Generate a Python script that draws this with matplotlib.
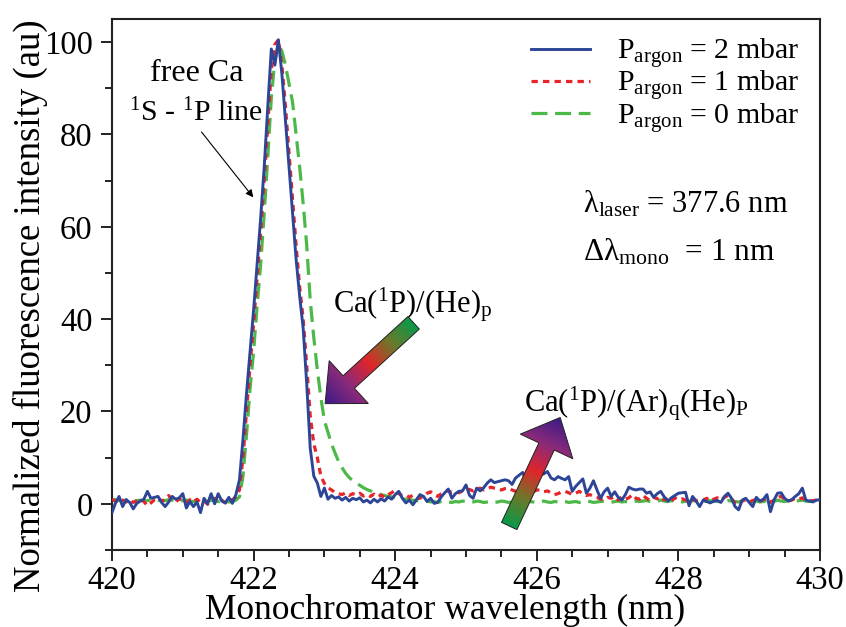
import numpy as np
import matplotlib.pyplot as plt
from matplotlib.ticker import MultipleLocator
from matplotlib.colors import LinearSegmentedColormap
from matplotlib.patches import Polygon

plt.rcParams['font.family'] = ['Liberation Serif', 'DejaVu Serif']
plt.rcParams['mathtext.fontset'] = 'custom'
plt.rcParams['mathtext.rm'] = 'Liberation Serif'
plt.rcParams['mathtext.it'] = 'Liberation Serif:italic'

# monochromator scan, 0.05 nm steps
wavelength = np.linspace(420, 430, 201)

p2_mbar = [
    -1.9, 0.2, 1.6, -0.6, 0.9, 0.3, -1.1, 0.1, 0.6, 1.0,
    2.7, 1.2, 1.4, 1.6, 0.3, -0.6, 0.4, 1.6, 1.0, 1.3,
    2.2, -0.9, 0.5, -0.6, 0.4, -1.9, 1.2, 0.0, 2.2, 0.0,
    2.2, 0.6, 0.2, 1.4, 0.1, 2.0, 5.2, 14, 24, 33,
    42, 52, 62, 73, 86, 98.5, 95, 100.5, 93, 83,
    73, 63, 53, 45, 38, 26, 12, 6, 4.5, 1.6,
    3.4, 1.0, 1.8, 1.2, 1.5, 0.8, 1.4, 0.6, 1.2, 0.9,
    1.3, 0.4, 0.8, 0.2, 1.0, 0.4, 1.1, 0.6, 1.5, 1.0,
    2.0, 2.7, 1.2, 0.2, 0.8, -0.2, 0.9, 2.0, 1.6, 0.5,
    1.2, 0.1, 0.3, 1.5, 2.4, 3.2, 1.2, 2.2, 2.7, 2.8,
    4.1, 1.8, 1.2, 3.4, 2.8, 3.5, 4.5, 5.2, 4.6, 4.8,
    5.0, 5.2, 5.0, 4.2, 5.6, 6.2, 6.8, 5.0, 4.8, 5.6,
    5.9, 6.3, 6.5, 7.0, 5.6, 5.2, 5.9, 5.5, 5.2, 5.9,
    2.7, 3.8, 4.6, 5.4, 2.3, 3.4, 5.0, 3.0, 1.2, 2.6,
    3.4, 1.6, 2.6, 1.4, 0.8, 2.0, 3.6, 3.2, 3.0, 3.2,
    3.2, 2.3, 2.6, 1.4, 2.2, 2.7, 1.5, 0.6, 1.3, 1.8,
    2.3, 2.4, 2.5, -0.4, 1.6, 0.6, -0.6, 0.8, 0.5, 0.2,
    0.6, 0.7, 0.3, 1.6, 2.3, 1.2, -0.6, -1.3, 0.8, 1.2,
    0.3, -0.6, 1.4, 0.6, 1.0, 2.0, -1.7, 0.8, 2.3, 2.4,
    1.2, 0.6, 0.9, 1.6, 2.2, 3.4, 0.8, 0.6, 0.4, 0.8,
    0.9,
]

p1_mbar = [
    1.0, 0.6, 0.2, 0.8, 0.4, 0.9, 0.3, 0.7, 1.0, 0.5,
    -0.4, 0.2, 0.9, 1.3, 0.6, 0.9, 1.8, 0.8, 0.4, 1.1,
    0.6, 0.2, 0.9, 0.4, 1.0, 0.3, 0.7, -0.1, 0.6, 1.2,
    0.4, 0.8, 0.2, 0.6, 0.9, 1.5, 3.0, 10, 20, 30,
    39, 49, 59, 70, 82, 94, 99.5, 100.5, 95, 86,
    76, 66, 56, 47, 40, 30, 19, 13, 10, 6.0,
    4.4, 3.5, 3.0, 2.5, 2.2, 2.0, 2.4, 1.8, 2.2, 1.9,
    2.3, 1.7, 2.0, 1.6, 2.1, 1.5, 1.9, 1.4, 2.0, 2.4,
    3.0, 2.2, 1.8, 2.0, 1.4, 1.9, 1.2, 1.2, 1.8, 2.3,
    2.6, 2.0, 1.6, 2.2, 2.7, 2.8, 2.5, 2.7, 2.4, 2.8,
    2.9, 3.1, 2.8, 3.2, 3.4, 3.0, 3.2, 3.6, 3.4, 3.2,
    3.0, 3.3, 3.4, 3.0, 2.7, 3.6, 4.5, 3.6, 2.0, 2.6,
    3.0, 3.0, 2.6, 2.8, 2.4, 2.0, 2.2, 2.6, 2.7, 2.4,
    2.0, 2.3, 2.7, 2.2, 1.8, 2.0, 1.6, 1.4, 1.0, 0.9,
    1.4, 1.2, 1.6, 0.8, 1.5, 1.0, 1.3, 2.0, 1.2, 1.0,
    1.8, 1.2, 0.7, 1.4, 1.1, 1.6, 0.8, 1.2, 0.6, 1.3,
    0.9, 1.1, 0.8, 0.4, 0.9, 0.7, 1.0, 0.8, 1.2, 0.6,
    1.0, 1.3, 0.8, 1.4, 1.8, 1.1, 0.2, -0.2, 0.6, 0.9,
    0.4, 0.7, 1.0, 0.5, 0.9, 1.2, 0.3, 0.8, 1.4, 1.6,
    1.0, 0.6, 0.8, 1.2, 1.0, 1.3, 0.8, 0.6, 0.7, 0.8,
    0.8,
]

p0_mbar = [
    0.8, 0.9, 0.7, 0.6, 0.8, 0.9, 0.5, 0.7, 0.8, 0.6,
    0.7, 0.9, 1.0, 0.8, 0.6, 0.7, 0.9, 0.8, 0.6, 0.5,
    0.7, 0.8, 0.6, 0.5, 0.4, 0.6, 0.7, 0.5, 0.8, 0.6,
    0.5, 0.7, 0.6, 0.4, 0.5, 0.8, 1.5, 6, 15, 25,
    33, 43, 52, 63, 75, 88, 96, 99.5, 98, 95,
    91, 87, 80, 73, 65, 56, 44, 36, 29, 23,
    18, 15.5, 13, 11, 9.2, 7.8, 6.6, 5.7, 5.0, 4.5,
    4.0, 3.5, 3.1, 2.8, 2.6, 2.3, 2.0, 1.8, 1.6, 1.5,
    1.3, 1.2, 1.1, 1.0, 0.9, 0.8, 0.7, 0.6, 0.5, 0.6,
    0.4, 0.5, 0.3, 0.5, 0.6, 0.4, 0.3, 0.5, 0.4, 0.6,
    0.5, 0.3, 0.4, 0.6, 0.5, 0.3, 0.4, 0.5, 0.3, 0.4,
    0.6, 0.5, 0.3, 0.4, 0.5, 0.6, 0.4, 0.3, 0.5, 0.4,
    0.3, 0.5, 0.6, 0.4, 0.3, 0.5, 0.4, 0.6, 0.5, 0.3,
    0.4, 0.5, 0.3, 0.4, 0.6, 0.5, 0.3, 0.4, 0.5, 0.6,
    0.4, 0.3, 0.5, 0.6, 0.4, 0.5, 0.3, 0.4, 0.6, 0.5,
    0.6, 0.7, 0.5, 0.4, 0.6, 0.8, 0.6, 0.5, 0.7, 0.6,
    0.5, 0.4, 0.6, 0.5, 0.7, 0.6, 0.4, 0.5, 0.6, 0.7,
    0.5, 0.6, 0.4, 0.5, 0.7, 0.6, 0.5, 0.4, 0.6, 0.5,
    0.7, 0.5, 0.6, 0.4, 0.5, 0.7, 0.6, 0.5, 0.8, 0.6,
    0.5, 0.7, 0.6, 0.5, 0.7, 0.8, 0.6, 0.5, 0.6, 0.7,
    0.6,
]

labels = [r'P$_{\rm argon}$ = 2 mbar', r'P$_{\rm argon}$ = 1 mbar',
          r'P$_{\rm argon}$ = 0 mbar']

fig = plt.figure(figsize=(8.46, 6.27), dpi=100)
ax = fig.add_axes([0.1324, 0.1228, 0.8369, 0.8469])

l0, = ax.plot(wavelength, p0_mbar, color='#4cb848', lw=2.3, dashes=(5, 2.4), zorder=2)
l1, = ax.plot(wavelength, p1_mbar, color='#e8242b', lw=2.3, dashes=(2.0, 1.6), zorder=3)
l2, = ax.plot(wavelength, p2_mbar, color='#2d4596', lw=2.1, zorder=4)

ax.set_xlim(420, 430)
ax.set_ylim(-10, 105)
ax.xaxis.set_major_locator(MultipleLocator(2))
ax.xaxis.set_minor_locator(MultipleLocator(0.5))
ax.yaxis.set_major_locator(MultipleLocator(20))
ax.yaxis.set_minor_locator(MultipleLocator(10))
ax.tick_params(which='both', direction='out', width=1.4, labelsize=23.5, color='#222222')
ax.tick_params(which='major', length=8)
ax.tick_params(which='minor', length=5)
ax.tick_params(axis='x', pad=3)
ax.tick_params(axis='y', pad=6)
for s in ax.spines.values():
    s.set_linewidth(1.5)
    s.set_color('#222222')

ax.set_xlabel('Monochromator wavelength (nm)', fontsize=25.5)
ax.set_ylabel('Normalized fluorescence intensity (au)', fontsize=26.5)
ax.xaxis.set_label_coords(0.47, -0.082)
ax.yaxis.set_label_coords(-0.09, 0.46)

ax.legend([l2, l1, l0], labels, loc='upper right', bbox_to_anchor=(0.988, 0.99),
          frameon=False, fontsize=21.5, handlelength=2.0, handletextpad=0.9,
          labelspacing=-0.06, borderaxespad=0)

ax.text(421.2, 91.6, 'free Ca', fontsize=23, ha='center', va='baseline')
ax.text(421.19, 82.9, r'$^{\rm 1}$S - $^{\rm 1}$P line', fontsize=21.5, ha='center', va='baseline')
ax.annotate('', xy=(422.02, 65.9), xytext=(421.24, 81.0),
            arrowprops=dict(arrowstyle='-|>', color='black', lw=0.8, mutation_scale=11))

ax.text(424.24, 41.4, r'Ca($^{\rm 1}$P)/(He)$_{\rm p}$', fontsize=22, ha='center', va='baseline')
ax.text(427.41, 20.0, r'Ca($^{\rm 1}$P)/(Ar)$_{\rm q}$(He)$_{\rm P}$', fontsize=22,
        ha='center', va='baseline')
ax.text(426.65, 63.1, r'λ$_{\rm laser}$ = 377.6 nm', fontsize=22, ha='left', va='baseline')
ax.text(426.65, 52.7, r'Δλ$_{\rm mono}$  = 1 nm', fontsize=22.5, ha='left', va='baseline')

# gradient block arrows drawn on a pixel overlay
ov = fig.add_axes([0, 0, 1, 1])
ov.set_xlim(0, 846)
ov.set_ylim(0, 627)
ov.axis('off')
ov.patch.set_visible(False)

cmap = LinearSegmentedColormap.from_list(
    'arr', [(0.0, '#08994a'), (0.25, '#6a7a2a'), (0.5, '#e0262a'),
            (0.75, '#8a2a7a'), (1.0, '#3a1a88')])


def grad_arrow(tail, tip, shaft=17, head_w=58, head_l=32):
    tail = np.array(ax.transData.transform(tail))
    tip = np.array(ax.transData.transform(tip))
    d = tip - tail
    L = np.hypot(*d)
    u = d / L
    n = np.array([-u[1], u[0]])
    base = tip - u * head_l
    pts = [tail + n * shaft / 2, base + n * shaft / 2, base + n * head_w / 2, tip,
           base - n * head_w / 2, base - n * shaft / 2, tail - n * shaft / 2]
    pts = np.array(pts)
    poly = Polygon(pts, closed=True, facecolor='none', edgecolor='#222222', lw=0.7, zorder=6)
    ov.add_patch(poly)
    x0, y0 = pts.min(axis=0) - 2
    x1, y1 = pts.max(axis=0) + 2
    X, Y = np.meshgrid(np.linspace(x0, x1, 150), np.linspace(y0, y1, 150))
    t = ((X - tail[0]) * u[0] + (Y - tail[1]) * u[1]) / L
    im = ov.imshow(t, extent=[x0, x1, y0, y1], origin='lower', cmap=cmap,
                   vmin=0, vmax=1, aspect='auto', zorder=5, interpolation='bilinear')
    im.set_clip_path(poly)


grad_arrow((424.26, 39.2), (423.01, 21.7))
grad_arrow((425.61, -4.8), (426.33, 18.7))
ov.set_xlim(0, 846)
ov.set_ylim(0, 627)

fig.savefig('out.png', dpi=100)
